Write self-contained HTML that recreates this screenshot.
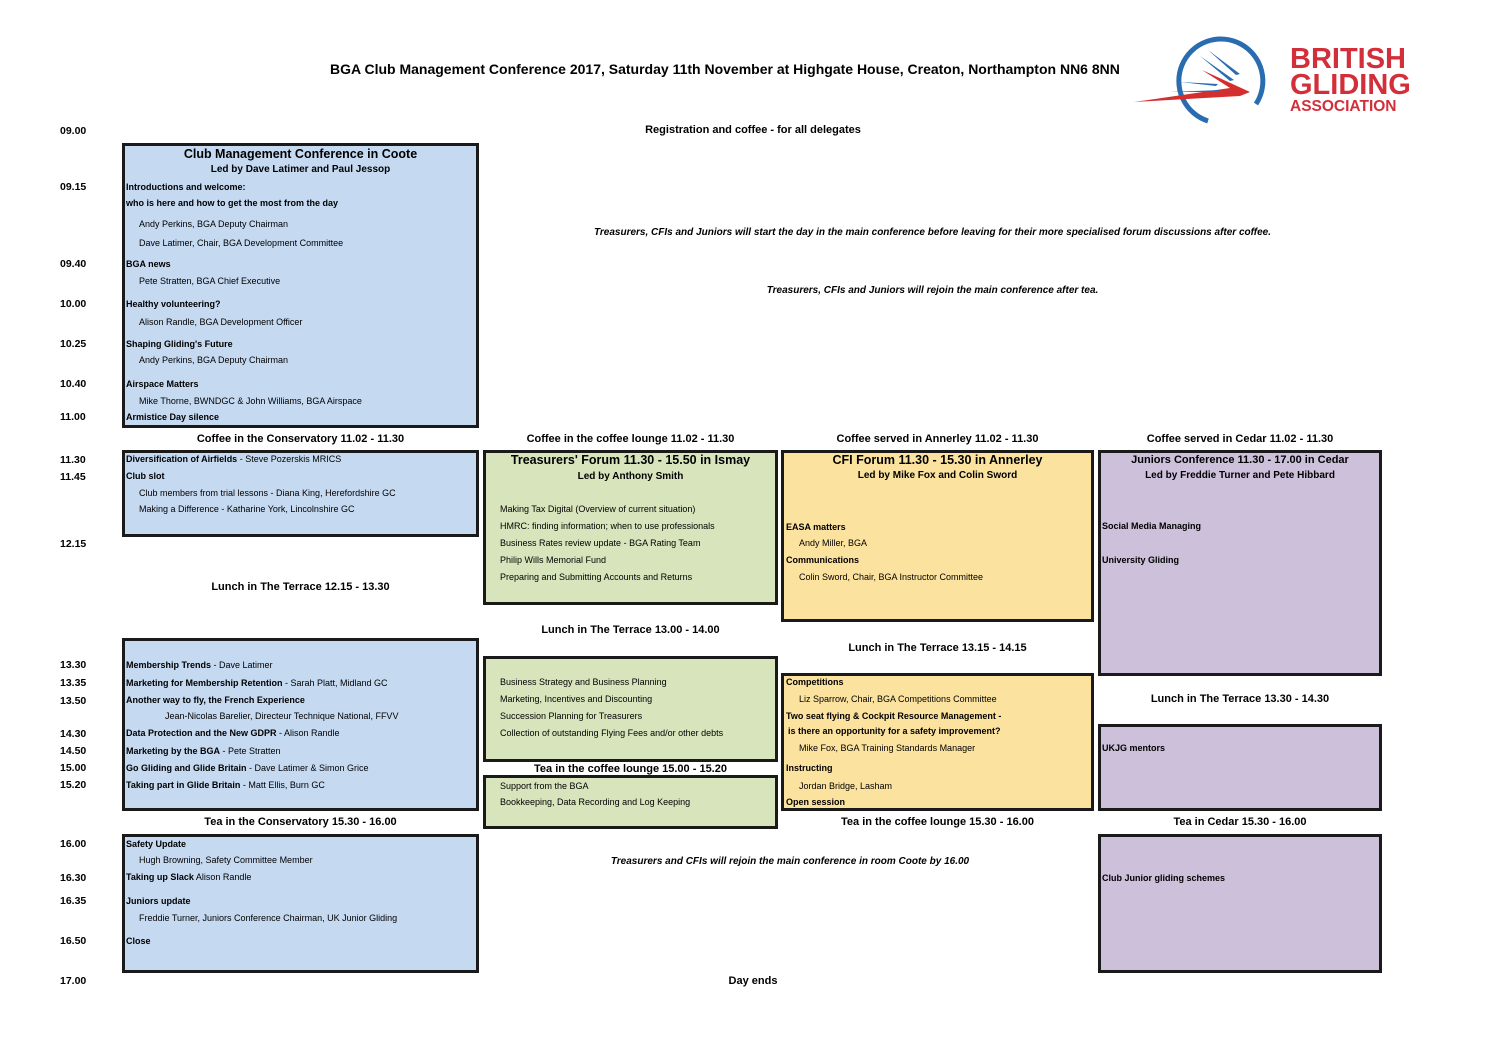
<!DOCTYPE html>
<html><head><meta charset="utf-8"><style>
body{margin:0;width:1497px;height:1058px;background:#fff;position:relative;font-family:"Liberation Sans",sans-serif;color:#000;overflow:hidden}
div{position:absolute;white-space:nowrap}
.b{border:3px solid #1a1a1a;box-sizing:border-box}
.bl{background:#c5d9f1}.gr{background:#d8e4bc}.ye{background:#fbe29e}.pu{background:#ccc0da}
.t{font-size:10.5px;font-weight:bold;left:60px}
.i{font-size:9px}
.s{font-size:9px;font-weight:bold}
.h{font-size:11px;font-weight:bold;text-align:center}
.H{font-size:12.5px;font-weight:bold;text-align:center}
.it{font-size:10px;font-style:italic;font-weight:bold;text-align:center}
</style></head><body>
<div style="left:330px;top:61px;font-size:14px;font-weight:bold">BGA Club Management Conference 2017, Saturday 11th November at Highgate House, Creaton, Northampton NN6 8NN</div>
<svg style="position:absolute;left:1130px;top:34px" width="160" height="94" viewBox="0 0 160 94">
<path d="M78 87 A42 42 0 1 1 126 70" fill="none" stroke="#2a6cb0" stroke-width="5"/>
<polygon points="4,68 100,54 72,36 120,58 110,62" fill="#d32f2f"/>
<polygon points="70,22 104,46 100,47" fill="#2a6cb0"/>
<polygon points="78,16 110,40 106,41" fill="#2a6cb0"/>
<polygon points="50,48 88,50 86,52" fill="#2a6cb0"/>
<polygon points="40,58 90,56 88,58" fill="#2a6cb0"/>
</svg>
<div style="left:1290px;top:46px;font-size:29px;font-weight:bold;color:#d32f3a;line-height:26px">BRITISH<br>GLIDING</div>
<div style="left:1290px;top:98px;font-size:15.5px;font-weight:bold;color:#d32f3a">ASSOCIATION</div>

<div class="t" style="top:125px">09.00</div>
<div class="t" style="top:181px">09.15</div>
<div class="t" style="top:258px">09.40</div>
<div class="t" style="top:298px">10.00</div>
<div class="t" style="top:338px">10.25</div>
<div class="t" style="top:378px">10.40</div>
<div class="t" style="top:411px">11.00</div>
<div class="t" style="top:454px">11.30</div>
<div class="t" style="top:471px">11.45</div>
<div class="t" style="top:538px">12.15</div>
<div class="t" style="top:659px">13.30</div>
<div class="t" style="top:677px">13.35</div>
<div class="t" style="top:695px">13.50</div>
<div class="t" style="top:728px">14.30</div>
<div class="t" style="top:745px">14.50</div>
<div class="t" style="top:762px">15.00</div>
<div class="t" style="top:779px">15.20</div>
<div class="t" style="top:838px">16.00</div>
<div class="t" style="top:872px">16.30</div>
<div class="t" style="top:895px">16.35</div>
<div class="t" style="top:935px">16.50</div>
<div class="t" style="top:975px">17.00</div>

<div class="h" style="left:600px;width:306px;top:124px">Registration and coffee - for all delegates</div>
<div class="it" style="left:480px;width:905px;top:227px">Treasurers, CFIs and Juniors will start the day in the main conference before leaving for their more specialised forum discussions after coffee.</div>
<div class="it" style="left:600px;width:665px;top:285px">Treasurers, CFIs and Juniors will rejoin the main conference after tea.</div>
<div class="it" style="left:480px;width:620px;top:856px">Treasurers and CFIs will rejoin the main conference in room Coote by 16.00</div>
<div class="h" style="left:600px;width:306px;top:975px">Day ends</div>

<!-- Blue 1 -->
<div class="b bl" style="left:122px;top:143px;width:357px;height:285px"></div>
<div class="H" style="left:122px;width:357px;top:147px">Club Management Conference in Coote</div>
<div class="h" style="left:122px;width:357px;top:164px;font-size:10px">Led by Dave Latimer and Paul Jessop</div>
<div class="s" style="left:126px;top:182px">Introductions and welcome:</div>
<div class="s" style="left:126px;top:198px">who is here and how to get the most from the day</div>
<div class="i" style="left:139px;top:219px">Andy Perkins, BGA Deputy Chairman</div>
<div class="i" style="left:139px;top:238px">Dave Latimer, Chair, BGA Development Committee</div>
<div class="s" style="left:126px;top:259px">BGA news</div>
<div class="i" style="left:139px;top:276px">Pete Stratten, BGA Chief Executive</div>
<div class="s" style="left:126px;top:299px">Healthy volunteering?</div>
<div class="i" style="left:139px;top:317px">Alison Randle, BGA Development Officer</div>
<div class="s" style="left:126px;top:339px">Shaping Gliding's Future</div>
<div class="i" style="left:139px;top:355px">Andy Perkins, BGA Deputy Chairman</div>
<div class="s" style="left:126px;top:379px">Airspace Matters</div>
<div class="i" style="left:139px;top:396px">Mike Thorne, BWNDGC &amp; John Williams, BGA Airspace</div>
<div class="s" style="left:126px;top:412px">Armistice Day silence</div>

<div class="h" style="left:122px;width:357px;top:433px">Coffee in the Conservatory 11.02 - 11.30</div>
<div class="h" style="left:483px;width:295px;top:433px">Coffee in the coffee lounge 11.02 - 11.30</div>
<div class="h" style="left:781px;width:313px;top:433px">Coffee served in Annerley 11.02 - 11.30</div>
<div class="h" style="left:1098px;width:284px;top:433px">Coffee served in Cedar 11.02 - 11.30</div>

<!-- Blue 2 -->
<div class="b bl" style="left:122px;top:450px;width:357px;height:87px"></div>
<div class="i" style="left:126px;top:454px"><b>Diversification of Airfields</b> - Steve Pozerskis MRICS</div>
<div class="s" style="left:126px;top:471px">Club slot</div>
<div class="i" style="left:139px;top:488px">Club members from trial lessons - Diana King, Herefordshire GC</div>
<div class="i" style="left:139px;top:504px">Making a Difference - Katharine York, Lincolnshire GC</div>
<div class="h" style="left:122px;width:357px;top:581px">Lunch in The Terrace 12.15 - 13.30</div>

<!-- Blue 3 -->
<div class="b bl" style="left:122px;top:638px;width:357px;height:173px"></div>
<div class="i" style="left:126px;top:660px"><b>Membership Trends</b> - Dave Latimer</div>
<div class="i" style="left:126px;top:678px"><b>Marketing for Membership Retention</b> - Sarah Platt, Midland GC</div>
<div class="s" style="left:126px;top:695px">Another way to fly, the French Experience</div>
<div class="i" style="left:165px;top:711px">Jean-Nicolas Barelier, Directeur Technique National, FFVV</div>
<div class="i" style="left:126px;top:728px"><b>Data Protection and the New GDPR</b> - Alison Randle</div>
<div class="i" style="left:126px;top:746px"><b>Marketing by the BGA</b> - Pete Stratten</div>
<div class="i" style="left:126px;top:763px"><b>Go Gliding and Glide Britain</b> - Dave Latimer &amp; Simon Grice</div>
<div class="i" style="left:126px;top:780px"><b>Taking part in Glide Britain</b> - Matt Ellis, Burn GC</div>
<div class="h" style="left:122px;width:357px;top:816px">Tea in the Conservatory 15.30 - 16.00</div>

<!-- Blue 4 -->
<div class="b bl" style="left:122px;top:834px;width:357px;height:139px"></div>
<div class="s" style="left:126px;top:839px">Safety Update</div>
<div class="i" style="left:139px;top:855px">Hugh Browning, Safety Committee Member</div>
<div class="i" style="left:126px;top:872px"><b>Taking up Slack</b> Alison Randle</div>
<div class="s" style="left:126px;top:896px">Juniors update</div>
<div class="i" style="left:139px;top:913px">Freddie Turner, Juniors Conference Chairman, UK Junior Gliding</div>
<div class="s" style="left:126px;top:936px">Close</div>

<!-- Green -->
<div class="b gr" style="left:483px;top:450px;width:295px;height:155px"></div>
<div class="H" style="left:483px;width:295px;top:453px">Treasurers' Forum 11.30 - 15.50 in Ismay</div>
<div class="h" style="left:483px;width:295px;top:471px;font-size:10px">Led by Anthony Smith</div>
<div class="i" style="left:500px;top:504px">Making Tax Digital (Overview of current situation)</div>
<div class="i" style="left:500px;top:521px">HMRC: finding information; when to use professionals</div>
<div class="i" style="left:500px;top:538px">Business Rates review update - BGA Rating Team</div>
<div class="i" style="left:500px;top:555px">Philip Wills Memorial Fund</div>
<div class="i" style="left:500px;top:572px">Preparing and Submitting Accounts and Returns</div>
<div class="h" style="left:483px;width:295px;top:624px">Lunch in The Terrace 13.00 - 14.00</div>
<div class="b gr" style="left:483px;top:656px;width:295px;height:106px"></div>
<div class="i" style="left:500px;top:677px">Business Strategy and Business Planning</div>
<div class="i" style="left:500px;top:694px">Marketing, Incentives and Discounting</div>
<div class="i" style="left:500px;top:711px">Succession Planning for Treasurers</div>
<div class="i" style="left:500px;top:728px">Collection of outstanding Flying Fees and/or other debts</div>
<div class="h" style="left:483px;width:295px;top:763px">Tea in the coffee lounge 15.00 - 15.20</div>
<div class="b gr" style="left:483px;top:775px;width:295px;height:54px"></div>
<div class="i" style="left:500px;top:781px">Support from the BGA</div>
<div class="i" style="left:500px;top:797px">Bookkeeping, Data Recording and Log Keeping</div>

<!-- Yellow -->
<div class="b ye" style="left:781px;top:450px;width:313px;height:172px"></div>
<div class="H" style="left:781px;width:313px;top:453px">CFI Forum 11.30 - 15.30 in Annerley</div>
<div class="h" style="left:781px;width:313px;top:470px;font-size:10px">Led by Mike Fox and Colin Sword</div>
<div class="s" style="left:786px;top:522px">EASA matters</div>
<div class="i" style="left:799px;top:538px">Andy Miller, BGA</div>
<div class="s" style="left:786px;top:555px">Communications</div>
<div class="i" style="left:799px;top:572px">Colin Sword, Chair, BGA Instructor Committee</div>
<div class="h" style="left:781px;width:313px;top:642px">Lunch in The Terrace 13.15 - 14.15</div>
<div class="b ye" style="left:781px;top:673px;width:313px;height:138px"></div>
<div class="s" style="left:786px;top:677px">Competitions</div>
<div class="i" style="left:799px;top:694px">Liz Sparrow, Chair, BGA Competitions Committee</div>
<div class="s" style="left:786px;top:711px">Two seat flying &amp; Cockpit Resource Management -</div>
<div class="s" style="left:788px;top:726px">is there an opportunity for a safety improvement?</div>
<div class="i" style="left:799px;top:743px">Mike Fox, BGA Training Standards Manager</div>
<div class="s" style="left:786px;top:763px">Instructing</div>
<div class="i" style="left:799px;top:781px">Jordan Bridge, Lasham</div>
<div class="s" style="left:786px;top:797px">Open session</div>
<div class="h" style="left:781px;width:313px;top:816px">Tea in the coffee lounge 15.30 - 16.00</div>

<!-- Purple -->
<div class="b pu" style="left:1098px;top:450px;width:284px;height:226px"></div>
<div class="h" style="left:1098px;width:284px;top:454px">Juniors Conference 11.30 - 17.00 in Cedar</div>
<div class="h" style="left:1098px;width:284px;top:470px;font-size:10px">Led by Freddie Turner and Pete Hibbard</div>
<div class="s" style="left:1102px;top:521px">Social Media Managing</div>
<div class="s" style="left:1102px;top:555px">University Gliding</div>
<div class="h" style="left:1098px;width:284px;top:693px">Lunch in The Terrace 13.30 - 14.30</div>
<div class="b pu" style="left:1098px;top:724px;width:284px;height:87px"></div>
<div class="s" style="left:1102px;top:743px">UKJG mentors</div>
<div class="h" style="left:1098px;width:284px;top:816px">Tea in Cedar 15.30 - 16.00</div>
<div class="b pu" style="left:1098px;top:834px;width:284px;height:139px"></div>
<div class="s" style="left:1102px;top:873px">Club Junior gliding schemes</div>
</body></html>
